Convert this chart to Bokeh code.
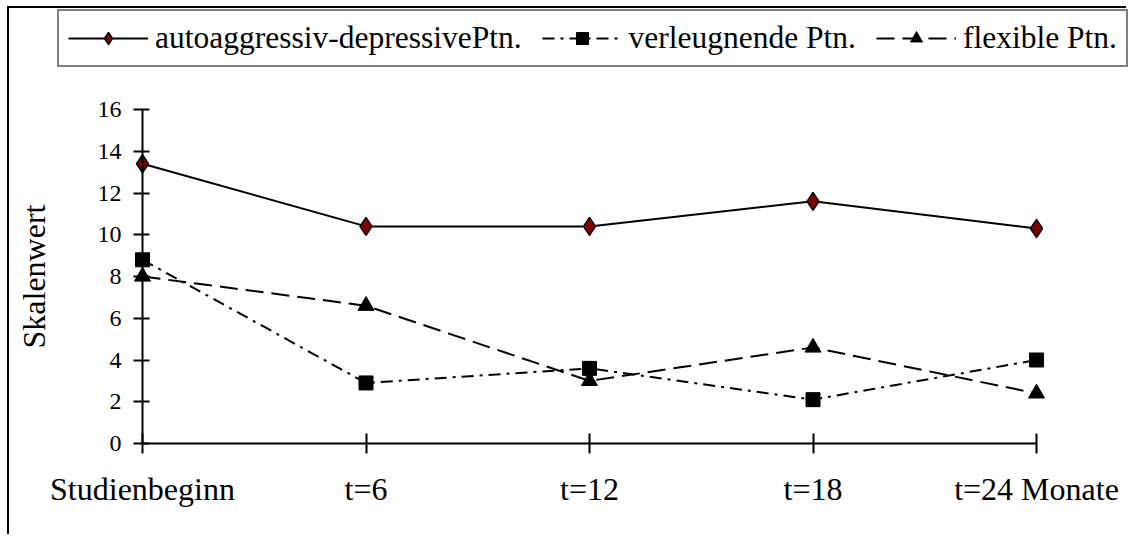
from bokeh.plotting import figure
from bokeh.models import Legend, LegendItem, FixedTicker, Range1d
from bokeh.embed import file_html
from bokeh.resources import INLINE

categories = ["Studienbeginn", "t=6", "t=12", "t=18", "t=24 Monate"]
autoaggressiv = [13.4, 10.4, 10.4, 11.6, 10.3]
verleugnend = [8.8, 2.9, 3.6, 2.1, 4.0]
flexibel = [8.0, 6.6, 3.0, 4.6, 2.4]
series_names = ["autoaggressiv-depressivePtn.", "verleugnende Ptn.", "flexible Ptn."]
y_ticks = [0, 2, 4, 6, 8, 10, 12, 14, 16]
y_label = "Skalenwert"

FONT = "Liberation Serif"

# layout (pixels inside the canvas)
W, H = 1119, 528
AX_LEFT, AX_RIGHT = 133, 1027      # pixel of first / last category
AX_BOTTOM, AX_TOP = 435, 101       # pixel of y=0 / y=16

x = list(range(len(categories)))
n_last = len(categories) - 1
y_lo, y_hi = y_ticks[0], y_ticks[-1]

xu = n_last / (AX_RIGHT - AX_LEFT)
yu = (y_hi - y_lo) / (AX_BOTTOM - AX_TOP)
x_range = Range1d(0 - AX_LEFT * xu, n_last + (W - AX_RIGHT) * xu)
y_range = Range1d(y_lo - (H - AX_BOTTOM) * yu, y_hi + AX_TOP * yu)

p = figure(width=W, height=H, output_backend="svg", toolbar_location=None,
           x_range=x_range, y_range=y_range,
           min_border_left=0, min_border_right=0, min_border_top=0, min_border_bottom=0)
p.styles = {"margin-left": "7px", "margin-top": "6px",
            "border-left": "2px solid black", "border-top": "2px solid black"}
p.outline_line_color = None
p.grid.visible = False
p.background_fill_color = "white"
p.border_fill_color = "white"

# x axis
xa = p.xaxis[0]
xa.fixed_location = y_lo
xa.bounds = (0, n_last)
xa.ticker = FixedTicker(ticks=x)
xa.major_label_overrides = {i: c for i, c in enumerate(categories)}
xa.major_tick_in = 10
xa.major_tick_out = 10
xa.minor_tick_line_color = None
xa.axis_line_width = 2
xa.major_tick_line_width = 2
xa.axis_line_color = "black"
xa.major_tick_line_color = "black"
xa.major_label_text_font = FONT
xa.major_label_text_font_size = "32px"
xa.major_label_text_color = "black"
xa.major_label_standoff = 17

# y axis
ya = p.yaxis[0]
ya.fixed_location = 0
ya.bounds = (y_lo, y_hi)
ya.ticker = FixedTicker(ticks=y_ticks)
ya.major_tick_in = 7
ya.major_tick_out = 9
ya.minor_tick_line_color = None
ya.axis_line_width = 2
ya.major_tick_line_width = 2
ya.axis_line_color = "black"
ya.major_tick_line_color = "black"
ya.major_label_text_font = FONT
ya.major_label_text_font_size = "24px"
ya.major_label_text_color = "black"
ya.major_label_standoff = 12
ya.axis_label = y_label
ya.axis_label_text_font = FONT
ya.axis_label_text_font_size = "32px"
ya.axis_label_text_font_style = "normal"
ya.axis_label_text_color = "black"
ya.axis_label_standoff = 43

r1l = p.line(x, autoaggressiv, line_color="black", line_width=2)
r1m = p.scatter(x, autoaggressiv, marker="diamond", size=18, fill_color="#800000",
                line_color="black", line_width=1.5)
r2l = p.line(x, verleugnend, line_color="black", line_width=2, line_dash="12 6 3 6")
r2m = p.scatter(x, verleugnend, marker="square", size=14, fill_color="black",
                line_color="black")
r3l = p.line(x, flexibel, line_color="black", line_width=2, line_dash="18 8")
r3m = p.scatter(x, flexibel, marker="triangle", size=16, fill_color="black",
                line_color="black")

LEG_LEFT, LEG_TOP, LEG_H = 48, 6, 53
legend = Legend(items=[
    LegendItem(label=series_names[0], renderers=[r1l, r1m]),
    LegendItem(label=series_names[1], renderers=[r2l, r2m]),
    LegendItem(label=series_names[2], renderers=[r3l, r3m]),
], orientation="horizontal", location=(LEG_LEFT, H - LEG_TOP - LEG_H),
    glyph_width=80, glyph_height=30, label_standoff=7, spacing=20, padding=9,
    label_text_font=FONT, label_text_font_size="31.5px", label_text_color="black",
    border_line_color="black", border_line_width=2,
    background_fill_color="white", background_fill_alpha=1.0)
p.add_layout(legend, "center")

open("out.html", "w").write(file_html(p, INLINE))
